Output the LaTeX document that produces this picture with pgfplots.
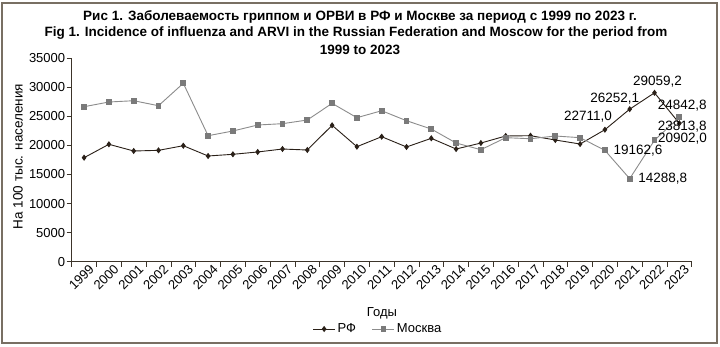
\documentclass[border=0pt]{standalone}
\usepackage{fontspec}
\setmainfont{Liberation Sans}
\newfontfamily\titlefont{Liberation Sans Bold}
\usepackage{pgfplots}
\pgfplotsset{compat=1.18}
\usepackage{pgfplotstable}
\definecolor{rfcol}{HTML}{2A2018}
\definecolor{mscol}{HTML}{8C8C8C}
\definecolor{msmark}{HTML}{7A7A7A}
\definecolor{axcol}{HTML}{3C342A}
\definecolor{framecol}{HTML}{786F63}

\pgfplotstableread{
x y
0 17900
1 20200
2 19050
3 19160
4 19960
5 18190
6 18480
7 18880
8 19390
9 19220
10 23470
11 19790
12 21510
13 19740
14 21230
15 19390
16 20420
17 21630
18 21680
19 20940
20 20250
21 22711.0
22 26252.1
23 29059.2
24 23813.8
}\rfdata

\pgfplotstableread{
x y
0 26670
1 27480
2 27700
3 26840
4 30700
5 21680
6 22490
7 23520
8 23750
9 24380
10 27250
11 24780
12 25980
13 24260
14 22830
15 20420
16 19270
17 21340
18 21160
19 21630
20 21340
21 19162.6
22 14288.8
23 20902.0
24 24842.8
}\msdata

\newcommand{\lab}[5]{%
\addplot[draw=none, forget plot, nodes near coords, point meta=explicit symbolic,
  nodes near coords style={anchor=center, inner sep=0pt, xshift=#3pt, yshift=#4pt, font=\fontsize{13.5}{15}\selectfont, text=black}]
  coordinates {(#1,#2) [#5]};}

\begin{document}
\begin{tikzpicture}
\useasboundingbox (0,0) rectangle (720pt,347pt);
\fill[white] (0,0) rectangle (720pt,347pt);
\draw[framecol, line width=2pt] (2pt,3.7pt) rectangle (717.3pt,344.3pt);
\node[font=\titlefont\fontsize{13.5}{15}\selectfont, text=black] at (360pt,330pt) {Рис 1. Заболеваемость гриппом и ОРВИ в РФ и Москве за период с 1999 по 2023 г.};
\node[font=\titlefont\fontsize{13.5}{15}\selectfont, text=black] at (356pt,314pt) {Fig 1. Incidence of influenza and ARVI in the Russian Federation and Moscow for the period from};
\node[font=\titlefont\fontsize{13.5}{15}\selectfont, text=black] at (360pt,297pt) {1999 to 2023};
\begin{axis}[
  at={(71.7pt,85.3pt)}, anchor=south west,
  scale only axis, width=620pt, height=203.4pt,
  xmin=-0.5, xmax=24.5, ymin=0, ymax=35000,
  axis lines=left, axis line style={-, axcol, line width=0.8pt},
  tick align=outside, major tick length=5pt,
  tick style={axcol, line width=0.8pt},
  xtick={-0.5,0.5,...,24.5},
  x tick label as interval,
  xticklabels={1999,2000,2001,2002,2003,2004,2005,2006,2007,2008,2009,2010,2011,2012,2013,2014,2015,2016,2017,2018,2019,2020,2021,2022,2023},
  xticklabel style={xshift=10pt, yshift=2pt, rotate=45, anchor=east, font=\fontsize{13}{15}\selectfont},
  ytick={0,5000,...,35000},
  scaled y ticks=false,
  yticklabel style={xshift=2pt, font=\fontsize{13}{15}\selectfont, /pgf/number format/1000 sep={}},
  /pgf/number format/assume math mode=true,
  ylabel={На 100 тыс. населения},
  ylabel style={at={(axis description cs:-0.0866,0.517)}, anchor=center, font=\fontsize{13.5}{15}\selectfont},
  xlabel={Годы},
  xlabel style={at={(axis description cs:0.5005,-0.252)}, anchor=center, font=\fontsize{13}{15}\selectfont},
  legend style={at={(axis description cs:0.494,-0.331)}, anchor=center, draw=none, fill=none, font=\fontsize{13}{15}\selectfont,
    /tikz/every even column/.append style={column sep=14pt}},
  legend columns=2,
  legend image code/.code={\draw[mark repeat=2,mark phase=2] plot coordinates {(0pt,0pt)(11pt,0pt)(22pt,0pt)};},
  clip=false,
]
\addplot[rfcol, line width=0.9pt, mark=diamond*, mark size=2.4pt, mark options={fill=rfcol, draw=rfcol}] table[x=x,y=y]{\rfdata};
\addlegendentry{РФ}
\addplot[mscol, line width=0.9pt, mark=square*, mark size=2.4pt, mark options={fill=msmark, draw=msmark}] table[x=x,y=y]{\msdata};
\addlegendentry{Москва}
\lab{21}{22711.0}{-17}{13}{22711,0}
\lab{22}{26252.1}{-15}{10}{26252,1}
\lab{23}{29059.2}{3}{11}{29059,2}
\lab{24}{23813.8}{3}{-3}{23813,8}
\lab{21}{19162.6}{33}{0}{19162,6}
\lab{22}{14288.8}{33}{0}{14288,8}
\lab{23}{20902.0}{28}{2}{20902,0}
\lab{24}{24842.8}{3}{12}{24842,8}
\end{axis}
\end{tikzpicture}
\end{document}
